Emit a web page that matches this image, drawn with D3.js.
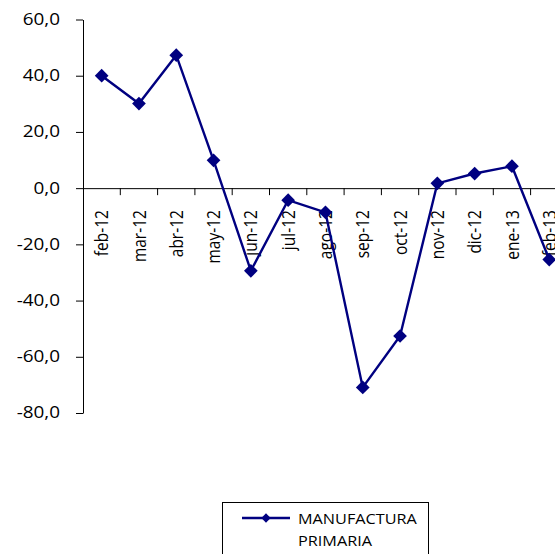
<!DOCTYPE html>
<html>
<head>
<meta charset="utf-8">
<script src="https://cdn.jsdelivr.net/npm/d3@7.9.0/dist/d3.min.js"></script>
<style>
  body { margin: 0; background: #fff; }
  svg { display: block; font-family: "Open Sans", sans-serif; }
</style>
</head>
<body>
<div id="chart"></div>
<script>
const months = ['feb-12','mar-12','abr-12','may-12','jun-12','jul-12','ago-12',
                'sep-12','oct-12','nov-12','dic-12','ene-13','feb-13'];
const values = [40.0, 30.1, 47.3, 9.9, -29.4, -4.3, -8.6, -70.9, -52.6, 1.7, 5.2, 7.8, -25.4];
const yTicks = [60, 40, 20, 0, -20, -40, -60, -80];
const seriesName = ['MANUFACTURA', 'PRIMARIA'];

const width = 555, height = 554;
const margin = {top: 19.5, left: 83, bottom: 141};
const color = '#000080';
const font = '"Open Sans", sans-serif';
const stretch = 1.22;   // the original text is a bit wide

const svg = d3.select('#chart').append('svg')
  .attr('width', width).attr('height', height);

// scales
const x = d3.scaleBand()
  .domain(months)
  .range([margin.left, margin.left + 37.3 * months.length]);
const y = d3.scaleLinear()
  .domain([-80, 60])
  .range([height - margin.bottom, margin.top]);

// y axis
svg.append('g')
  .attr('transform', `translate(${margin.left},0)`)
  .call(d3.axisLeft(y).tickValues(yTicks).tickSize(7).tickSizeOuter(0)
    .tickFormat(d => d3.format('.1f')(d).replace('.', ',').replace('−', '-')))
  .call(g => g.select('.domain').attr('stroke', '#000'))
  .call(g => g.selectAll('.tick text')
    .attr('x', 0)
    .attr('transform', `translate(-23,0) scale(${stretch},1)`)
    .attr('font-size', 15.5).attr('fill', '#000')
    .attr('font-family', font));

// x axis at zero
const xAxis = svg.append('g')
  .attr('transform', `translate(0,${y(0)})`)
  .call(d3.axisBottom(x).tickSize(0).tickSizeOuter(0));
xAxis.select('.domain').attr('stroke', '#000');
xAxis.selectAll('.tick text')
  .attr('transform', `scale(${stretch},1) rotate(-90)`)
  .attr('text-anchor', 'end')
  .attr('x', -22).attr('y', 0).attr('dy', '0.35em')
  .attr('font-size', 15.5).attr('fill', '#000')
  .attr('font-family', font);

// category separators
svg.append('g')
  .selectAll('line')
  .data(months.slice(1))
  .join('line')
    .attr('x1', d => x(d)).attr('x2', d => x(d))
    .attr('y1', y(0)).attr('y2', y(0) + 7)
    .attr('stroke', '#000');

// line
const line = d3.line()
  .x((d, i) => x(months[i]) + x.bandwidth() / 2)
  .y(d => y(d));
svg.append('path')
  .datum(values)
  .attr('d', line)
  .attr('fill', 'none')
  .attr('stroke', color)
  .attr('stroke-width', 2.4);

// markers
const diamond = d3.symbol().type(d3.symbolDiamond2).size(120);
svg.append('g')
  .selectAll('path')
  .data(values)
  .join('path')
    .attr('transform', (d, i) => `translate(${x(months[i]) + x.bandwidth() / 2},${y(d)})`)
    .attr('d', diamond)
    .attr('fill', color);

// legend
const legend = svg.append('g').attr('transform', 'translate(222,502)');
legend.append('rect')
  .attr('x', 0.5).attr('y', 0.5)
  .attr('width', 206).attr('height', 60)
  .attr('fill', '#fff').attr('stroke', '#000');
legend.append('line')
  .attr('x1', 20).attr('x2', 68)
  .attr('y1', 16).attr('y2', 16)
  .attr('stroke', color).attr('stroke-width', 2.4);
legend.append('path')
  .attr('transform', 'translate(44,16)')
  .attr('d', d3.symbol().type(d3.symbolDiamond2).size(55))
  .attr('fill', color);
legend.append('text')
  .attr('transform', 'translate(76,22) scale(1.12,1)')
  .attr('font-size', 14.5).attr('fill', '#000')
  .attr('font-family', font)
  .selectAll('tspan')
  .data(seriesName)
  .join('tspan')
    .attr('x', 0)
    .attr('dy', (d, i) => i ? 22 : 0)
    .text(d => d);
</script>
</body>
</html>
